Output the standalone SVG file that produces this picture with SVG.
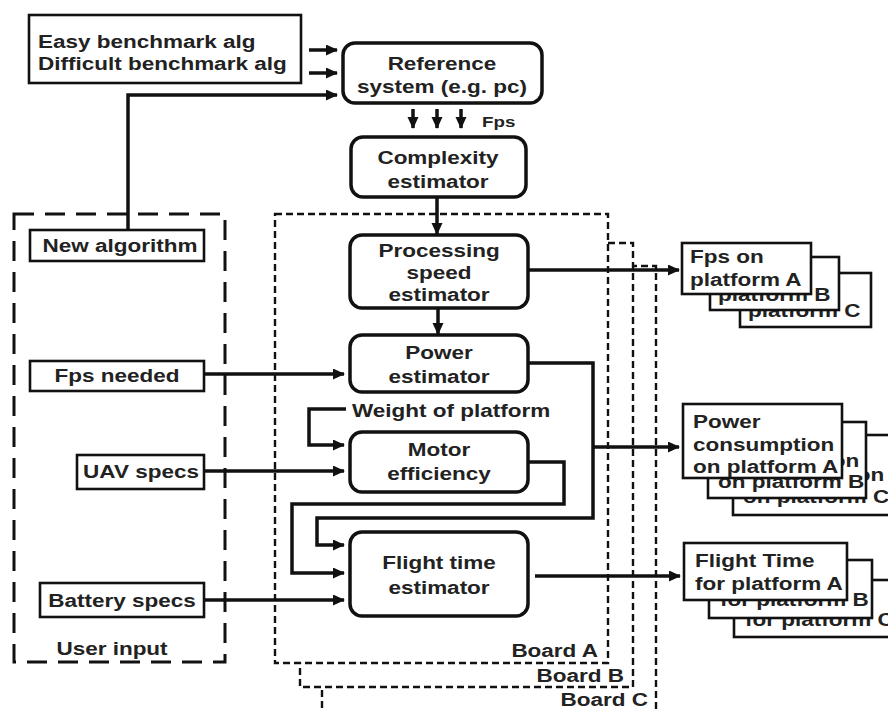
<svg xmlns="http://www.w3.org/2000/svg" width="888" height="712" viewBox="0 0 888 712">
  <style>
    text { font-family: "Liberation Sans", Arial, sans-serif; font-weight: bold; font-size: 18px; fill: #222; }
    .mid { text-anchor: middle; }
    .end { text-anchor: end; }
    .small { font-size: 15px; }
    .est { fill: #fff; stroke: #111; stroke-width: 3.5; }
    .box { fill: #fff; stroke: #111; stroke-width: 2.6; }
    .board { fill: #fff; stroke: #111; stroke-width: 2.4; stroke-dasharray: 7 4; }
    .user { fill: none; stroke: #111; stroke-width: 3; stroke-dasharray: 20 11; }
    .wire { fill: none; stroke: #111; stroke-width: 3.5; stroke-linejoin: miter; }
    .arr { marker-end: url(#head); }
  </style>
  <defs>
    <marker id="head" markerUnits="userSpaceOnUse" markerWidth="13" markerHeight="12" refX="11" refY="5.5" orient="auto">
      <path d="M0,0 L12,5.5 L0,11 z" fill="#111"/>
    </marker>
  </defs>

  <rect width="888" height="712" fill="#fff"/>

  <!-- boards, back to front -->
  <g id="board-c">
    <rect class="board" x="322" y="266" width="334" height="470"/>
    <text class="end" transform="translate(648 706) scale(1.25 1)">Board C</text>
  </g>
  <g id="board-b">
    <rect class="board" x="300" y="243" width="333" height="444"/>
    <text class="end" transform="translate(624 682) scale(1.25 1)">Board B</text>
  </g>
  <g id="board-a">
    <rect class="board" x="275" y="214" width="333" height="449"/>
    <text class="end" transform="translate(598 657) scale(1.25 1)">Board A</text>
  </g>

  <!-- user input frame -->
  <g id="user-input">
    <rect class="user" x="14" y="214" width="211" height="448"/>
    <text class="mid" transform="translate(112 655) scale(1.25 1)">User input</text>
  </g>

  <g id="benchmarks">
    <rect class="box" x="29" y="15" width="272" height="68"/>
    <text transform="translate(38 48) scale(1.25 1)"><tspan x="0" y="0">Easy benchmark alg</tspan><tspan x="0" y="22">Difficult benchmark alg</tspan></text>
  </g>

  <g id="reference-system">
    <rect class="est" x="343" y="43" width="199" height="60" rx="12"/>
    <text class="mid" transform="translate(442 70) scale(1.25 1)"><tspan x="0" y="0">Reference</tspan><tspan x="0" y="23">system (e.g. pc)</tspan></text>
  </g>

  <g id="fps-label">
    <text class="small" transform="translate(482 127) scale(1.25 1)">Fps</text>
  </g>

  <g id="complexity-estimator">
    <rect class="est" x="351" y="137" width="175" height="60" rx="12"/>
    <text class="mid" transform="translate(438 164) scale(1.25 1)"><tspan x="0" y="0">Complexity</tspan><tspan x="0" y="24">estimator</tspan></text>
  </g>

  <g id="processing-speed-estimator">
    <rect class="est" x="350" y="235" width="178" height="73" rx="12"/>
    <text class="mid" transform="translate(439 257) scale(1.25 1)"><tspan x="0" y="0">Processing</tspan><tspan x="0" y="22">speed</tspan><tspan x="0" y="44">estimator</tspan></text>
  </g>

  <g id="power-estimator">
    <rect class="est" x="350" y="335" width="178" height="57" rx="12"/>
    <text class="mid" transform="translate(439 359) scale(1.25 1)"><tspan x="0" y="0">Power</tspan><tspan x="0" y="24">estimator</tspan></text>
  </g>

  <g id="weight-of-platform">
    <text transform="translate(352 417) scale(1.25 1)">Weight of platform</text>
  </g>

  <g id="motor-efficiency">
    <rect class="est" x="350" y="432" width="178" height="60" rx="12"/>
    <text class="mid" transform="translate(439 456) scale(1.25 1)"><tspan x="0" y="0">Motor</tspan><tspan x="0" y="24">efficiency</tspan></text>
  </g>

  <g id="flight-time-estimator">
    <rect class="est" x="350" y="532" width="178" height="84" rx="12"/>
    <text class="mid" transform="translate(439 569) scale(1.25 1)"><tspan x="0" y="0">Flight time</tspan><tspan x="0" y="25">estimator</tspan></text>
  </g>

  <!-- user inputs -->
  <g id="new-algorithm">
    <rect class="box" x="30" y="230" width="174" height="31"/>
    <text class="mid" transform="translate(120 252) scale(1.25 1)">New algorithm</text>
  </g>
  <g id="fps-needed">
    <rect class="box" x="30" y="361" width="174" height="30"/>
    <text class="mid" transform="translate(117 382) scale(1.25 1)">Fps needed</text>
  </g>
  <g id="uav-specs">
    <rect class="box" x="77" y="455" width="127" height="34"/>
    <text class="mid" transform="translate(141 478) scale(1.25 1)">UAV specs</text>
  </g>
  <g id="battery-specs">
    <rect class="box" x="40" y="583" width="164" height="34"/>
    <text class="mid" transform="translate(122 607) scale(1.25 1)">Battery specs</text>
  </g>

  <!-- per-platform results, stacked C behind B behind A -->
  <g id="fps-results">
    <rect class="box" x="740" y="273" width="131" height="54"/>
    <text transform="translate(748 317) scale(1.25 1)">platform C</text>
    <rect class="box" x="710" y="257" width="129" height="53"/>
    <text transform="translate(718 301) scale(1.25 1)">platform B</text>
    <rect class="box" x="682" y="243" width="129" height="51"/>
    <text transform="translate(690 263) scale(1.25 1)"><tspan x="0" y="0">Fps on</tspan><tspan x="0" y="23">platform A</tspan></text>
  </g>

  <g id="power-results">
    <rect class="box" x="733" y="435" width="170" height="80"/>
    <text transform="translate(743 481) scale(1.25 1)"><tspan x="0" y="0">consumption</tspan><tspan x="0" y="22">on platform C</tspan></text>
    <rect class="box" x="708" y="422" width="158" height="76"/>
    <text transform="translate(718 467) scale(1.25 1)"><tspan x="0" y="0">consumption</tspan><tspan x="0" y="21">on platform B</tspan></text>
    <rect class="box" x="683" y="404" width="159" height="74"/>
    <text transform="translate(693 428) scale(1.25 1)"><tspan x="0" y="0">Power</tspan><tspan x="0" y="23">consumption</tspan><tspan x="0" y="45">on platform A</tspan></text>
  </g>

  <g id="flight-results">
    <rect class="box" x="734" y="580" width="170" height="57"/>
    <text transform="translate(745 626) scale(1.25 1)">for platform C</text>
    <rect class="box" x="709" y="560" width="163" height="58"/>
    <text transform="translate(720 606) scale(1.25 1)">for platform B</text>
    <rect class="box" x="684" y="543" width="163" height="57"/>
    <text transform="translate(695 567) scale(1.25 1)"><tspan x="0" y="0">Flight Time</tspan><tspan x="0" y="23">for platform A</tspan></text>
  </g>

  <!-- connectors -->
  <g id="connectors">
    <path class="wire arr" d="M309,50 H337"/>
    <path class="wire arr" d="M309,73 H337"/>
    <path class="wire arr" d="M128,230 V95 H337"/>
    <path class="wire arr" d="M413,109 V128"/>
    <path class="wire arr" d="M437,109 V128"/>
    <path class="wire arr" d="M461,109 V128"/>
    <path class="wire arr" d="M437,197 V234"/>
    <path class="wire arr" d="M438,308 V334"/>
    <path class="wire arr" d="M205,374 H344"/>
    <path class="wire arr" d="M205,471 H344"/>
    <path class="wire arr" d="M205,600 H344"/>
    <path class="wire arr" d="M346,409 H309 V445 H344"/>
    <path class="wire arr" d="M528,462 H564 V504 H292 V573 H344"/>
    <path class="wire arr" d="M528,363 H593 V518 H317 V545 H344"/>
    <path class="wire arr" d="M593,447 H679"/>
    <path class="wire arr" d="M528,270 H679"/>
    <path class="wire arr" d="M535,576 H680"/>
  </g>
</svg>
